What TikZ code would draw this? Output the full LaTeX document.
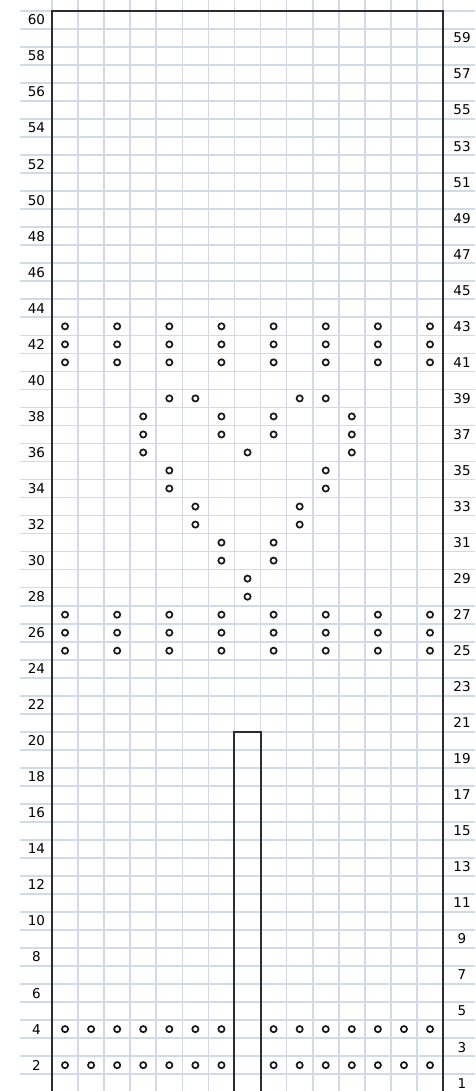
\documentclass[tikz,border=0pt]{standalone}
\usepackage{fontspec}
\setmainfont{DejaVu Sans}
\definecolor{gridc}{RGB}{210,218,233}
\definecolor{borderc}{RGB}{45,45,45}
\begin{document}
\begin{tikzpicture}[x=1pt,y=-1pt,
  gridline/.style={gridc,line width=1.7pt},
  frame/.style={borderc,line width=2pt},
  stitch/.style={black!90,line width=1.7pt},
  rowlabel/.style={font=\fontsize{13.5}{14}\selectfont,inner sep=0pt,anchor=center,text=black}]
\useasboundingbox (0,0) rectangle (475,1091);
\clip (0,0) rectangle (475,1091);
\fill[white] (0,0) rectangle (475,1091);
% grid
\foreach \k in {0,...,60} {
  \draw[gridline] (20,{11+18.02*\k}) -- (475,{11+18.02*\k});
}
\foreach \k in {0,...,15} {
  \draw[gridline] ({52+26.07*\k},0) -- ({52+26.07*\k},1095);
}
% frame
\draw[frame] (52,1100) -- (52,11) -- (443.05,11) -- (443.05,1100);
% centre strip rectangle
\draw[frame] ({52+26.07*7},1100) -- ({52+26.07*7},731.8) -- ({52+26.07*8},731.8) -- ({52+26.07*8},1100);
% row labels
\foreach \r in {2,4,...,60} {
  \node[rowlabel] (L\r) at (36.5,{20+18.02*(60-\r)}) {\r};
}
\foreach \r in {1,3,...,59} {
  \node[rowlabel] (R\r) at (462,{20+18.02*(60-\r)}) {\r};
}
% stitches
\foreach \r in {43,42,41,27,26,25} {
  \foreach \c in {1,3,...,15} {
    \draw[stitch] ({52+26.07*(\c-0.5)},{20+18.02*(60-\r)}) circle[radius=3.1];
  }
}
\foreach \r in {4,2} {
  \foreach \c in {1,...,7,9,10,...,15} {
    \draw[stitch] ({52+26.07*(\c-0.5)},{20+18.02*(60-\r)}) circle[radius=3.1];
  }
}
\foreach \c/\r in {5/39,6/39,10/39,11/39,
                   4/38,7/38,9/38,12/38,
                   4/37,7/37,9/37,12/37,
                   4/36,8/36,12/36,
                   5/35,11/35,5/34,11/34,
                   6/33,10/33,6/32,10/32,
                   7/31,9/31,7/30,9/30,
                   8/29,8/28} {
  \draw[stitch] ({52+26.07*(\c-0.5)},{20+18.02*(60-\r)}) circle[radius=3.1];
}
\end{tikzpicture}
\end{document}
